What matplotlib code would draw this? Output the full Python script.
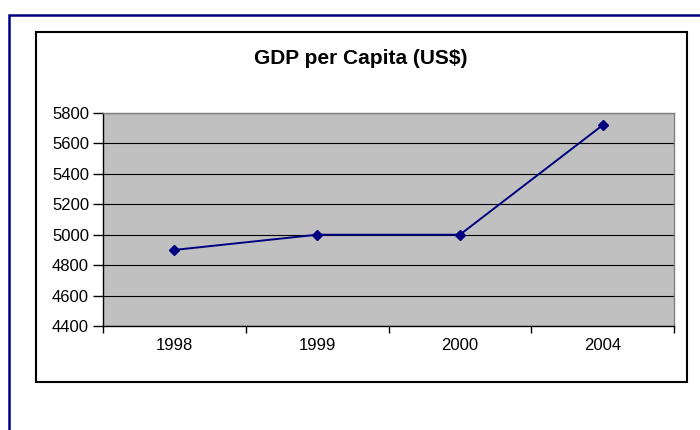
import matplotlib.pyplot as plt
from matplotlib.patches import Rectangle

# chart data
years = ["1998", "1999", "2000", "2004"]
gdp = [4900, 5000, 5000, 5720]
y_ticks = [4400, 4600, 4800, 5000, 5200, 5400, 5600, 5800]

W, H = 700, 430
plt.rcParams['font.family'] = ['Liberation Sans', 'DejaVu Sans']

fig = plt.figure(figsize=(W / 100, H / 100), dpi=100)

# outer navy frame (open at right/bottom) and inner black chart box
fig.patches.append(Rectangle((9 / W, -0.1), 1.2, (H - 15) / H + 0.1,
                             transform=fig.transFigure, fill=False,
                             edgecolor='#000080', linewidth=1.8))
fig.patches.append(Rectangle((36 / W, (H - 382) / H), (687 - 36) / W, (382 - 32) / H,
                             transform=fig.transFigure, fill=False,
                             edgecolor='black', linewidth=1.5))

ax = fig.add_axes([103 / W, (H - 326) / H, (674 - 103) / W, (326 - 113) / H])
ax.set_facecolor('#C0C0C0')

x = range(len(years))
ax.plot(x, gdp, color='#000080', linewidth=1.4, marker='D', markersize=5,
        markerfacecolor='#000080', markeredgecolor='#000080', zorder=3)

ax.set_ylim(4400, 5800)
ax.set_yticks(y_ticks)
ax.set_xlim(-0.5, len(years) - 0.5)
ax.set_xticks([i - 0.5 for i in range(len(years) + 1)])
ax.set_xticklabels([])
ax.set_xticks(list(x), minor=True)
ax.set_xticklabels(years, minor=True)
ax.tick_params(axis='x', which='minor', length=0, pad=9, labelsize=12)
ax.tick_params(axis='x', which='major', length=5, width=1, direction='out')
ax.tick_params(axis='y', length=7, width=1, direction='out', pad=3, labelsize=12)

ax.yaxis.grid(True, color='black', linewidth=0.8)
ax.set_axisbelow(True)

for side in ['top', 'right']:
    ax.spines[side].set_color('#808080')
    ax.spines[side].set_linewidth(1)
for side in ['left', 'bottom']:
    ax.spines[side].set_color('black')
    ax.spines[side].set_linewidth(1)

fig.text(361 / W, (H - 58) / H, "GDP per Capita (US$)", ha='center', va='center',
         fontsize=15, fontweight='bold')

fig.savefig('out.png', dpi=100)
